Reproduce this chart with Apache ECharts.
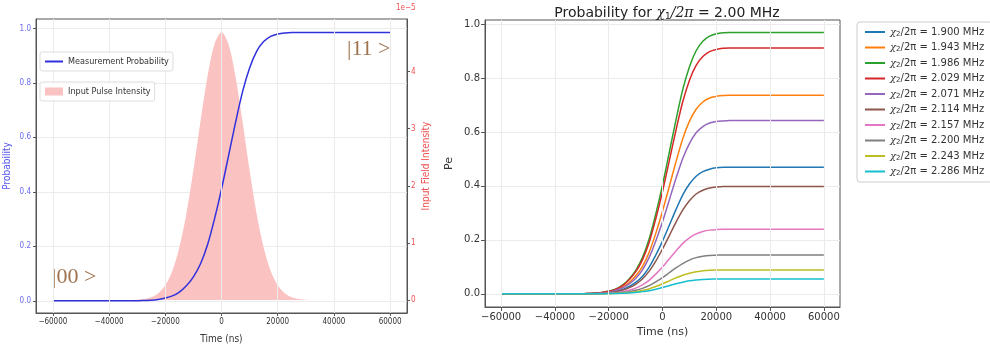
<!DOCTYPE html>
<html>
<head>
<meta charset="utf-8">
<script src="https://cdn.jsdelivr.net/npm/echarts@6/dist/echarts.min.js"></script>
<style>
  html, body { margin: 0; padding: 0; background: #fff; }
  #chart { width: 990px; height: 349px; }
</style>
</head>
<body>
<div id="chart"></div>
<script>
// time samples (ns) shared by every curve
const times = [-60000, -30000, -27500, -25000, -22500, -20000, -17500, -15000, -12500, -10000, -7500, -5000, -2500,
  0, 2500, 5000, 7500, 10000, 12500, 15000, 17500, 20000, 22500, 25000, 60000];

// left panel
const measProb = [0, 0, 0.001, 0.002, 0.005, 0.010, 0.018, 0.032, 0.055, 0.088, 0.135, 0.205, 0.300,
  0.410, 0.532, 0.655, 0.768, 0.855, 0.916, 0.952, 0.971, 0.980, 0.984, 0.985, 0.985];
// pulse intensity in units of 1e-5
const pulseTimes = [-60000, -35000, -32500, -30000, -27500, -25000, -22500, -20000, -17500, -15000, -12500, -10000, -7500, -5000, -2500,
  0, 2500, 5000, 7500, 10000, 12500, 15000, 17500, 20000, 22500, 25000, 27500, 30000, 32500, 35000, 60000];
const pulse = [0, 0, 0.002, 0.007, 0.019, 0.05, 0.12, 0.26, 0.51, 0.92, 1.51, 2.27, 3.12, 3.91, 4.48,
  4.69, 4.48, 3.91, 3.12, 2.27, 1.51, 0.92, 0.51, 0.26, 0.12, 0.05, 0.019, 0.007, 0.002, 0, 0];

// right panel
const chi2Labels = ['1.900', '1.943', '1.986', '2.029', '2.071', '2.114', '2.157', '2.200', '2.243', '2.286'];
const pe1900 = [0, 0, 0, 0.001, 0.002, 0.005, 0.008, 0.015, 0.026, 0.042, 0.064, 0.098, 0.143, 0.195, 0.253, 0.312, 0.366, 0.407, 0.436, 0.453, 0.462, 0.467, 0.469, 0.469, 0.469];
const pe1943 = [0, 0, 0.001, 0.001, 0.004, 0.007, 0.013, 0.024, 0.041, 0.066, 0.101, 0.153, 0.224, 0.306, 0.397, 0.489, 0.574, 0.639, 0.684, 0.711, 0.726, 0.732, 0.735, 0.736, 0.736];
const pe1986 = [0, 0, 0.001, 0.002, 0.005, 0.010, 0.017, 0.031, 0.054, 0.086, 0.133, 0.202, 0.296, 0.403, 0.523, 0.644, 0.756, 0.841, 0.901, 0.936, 0.955, 0.964, 0.968, 0.969, 0.969];
const pe2029 = [0, 0, 0.001, 0.002, 0.005, 0.009, 0.016, 0.029, 0.051, 0.081, 0.125, 0.189, 0.278, 0.379, 0.492, 0.606, 0.711, 0.791, 0.847, 0.880, 0.898, 0.906, 0.910, 0.911, 0.911];
const pe2071 = [0, 0, 0.001, 0.001, 0.003, 0.006, 0.012, 0.021, 0.036, 0.057, 0.088, 0.134, 0.196, 0.267, 0.347, 0.427, 0.501, 0.557, 0.597, 0.620, 0.633, 0.639, 0.641, 0.642, 0.642];
const pe2114 = [0, 0, 0, 0.001, 0.002, 0.004, 0.007, 0.013, 0.022, 0.035, 0.055, 0.083, 0.121, 0.166, 0.215, 0.265, 0.310, 0.345, 0.370, 0.384, 0.392, 0.396, 0.398, 0.398, 0.398];
const pe2157 = [0, 0, 0, 0, 0.001, 0.002, 0.004, 0.008, 0.013, 0.021, 0.033, 0.050, 0.073, 0.099, 0.129, 0.159, 0.186, 0.207, 0.222, 0.231, 0.236, 0.238, 0.239, 0.239, 0.239];
const pe2200 = [0, 0, 0, 0, 0.001, 0.001, 0.003, 0.005, 0.008, 0.013, 0.020, 0.030, 0.044, 0.060, 0.078, 0.096, 0.112, 0.125, 0.134, 0.139, 0.142, 0.143, 0.144, 0.144, 0.144];
const pe2243 = [0, 0, 0, 0, 0, 0.001, 0.002, 0.003, 0.005, 0.008, 0.012, 0.018, 0.027, 0.037, 0.048, 0.059, 0.069, 0.076, 0.082, 0.085, 0.087, 0.088, 0.088, 0.088, 0.088];
const pe2286 = [0, 0, 0, 0, 0, 0.001, 0.001, 0.002, 0.003, 0.005, 0.008, 0.011, 0.017, 0.023, 0.030, 0.037, 0.043, 0.048, 0.051, 0.053, 0.054, 0.055, 0.055, 0.055, 0.055];
const peSeries = [pe1900, pe1943, pe1986, pe2029, pe2071, pe2114, pe2157, pe2200, pe2243, pe2286];

const xTicks = [-60000, -40000, -20000, 0, 20000, 40000, 60000];
const probTicks = [0, 0.2, 0.4, 0.6, 0.8, 1.0];
const pulseTicks = [0, 1, 2, 3, 4];

const tab10 = ['#1f77b4', '#ff7f0e', '#2ca02c', '#d62728', '#9467bd', '#8c564b', '#e377c2', '#7f7f7f', '#bcbd22', '#17becf'];

const zip = (xs, ys) => xs.map((x, i) => [x, ys[i]]);
const minus = v => String(v).replace('-', '\u2212');
const narrow = '"Liberation Sans Narrow", "DejaVu Sans Condensed", sans-serif';
const sans = '"DejaVu Sans", sans-serif';
const gridLine = { show: true, lineStyle: { color: '#ebebeb', width: 1 } };
const axisLine = { show: true, onZero: false, lineStyle: { color: '#555' } };

// vertical grid lines at the x ticks, carried by an empty series
const vGrid = (xIdx, yIdx) => ({
  type: 'line', xAxisIndex: xIdx, yAxisIndex: yIdx, data: [], z: 2,
  markLine: {
    silent: true, symbol: 'none', animation: false, label: { show: false },
    lineStyle: { color: '#ebebeb', width: 1, type: 'solid' },
    data: xTicks.map(v => ({ xAxis: v })),
  },
});

const chart = echarts.init(document.getElementById('chart'), null, { renderer: 'canvas' });

const seriesRight = peSeries.map((arr, i) => ({
  name: 'chi' + chi2Labels[i],
  type: 'line',
  xAxisIndex: 1,
  yAxisIndex: 2,
  data: zip(times, arr),
  smooth: 0.3,
  symbol: 'none',
  lineStyle: { color: tab10[i], width: 1.5 },
  itemStyle: { color: tab10[i] },
  z: 3,
}));

const option = {
  animation: false,
  title: {
    text: 'Probability for {it|χ}{sub|1}{it|/2π} = 2.00 MHz',
    left: 662,
    textAlign: 'center',
    top: 1,
    textStyle: {
      fontFamily: sans, fontSize: 14, fontWeight: 'normal', color: '#222',
      rich: {
        it: { fontFamily: '"DejaVu Serif", serif', fontStyle: 'italic', fontSize: 14, color: '#222' },
        sub: { fontFamily: sans, fontSize: 9, color: '#222', padding: [6, 0, 0, 0] },
      },
    },
  },
  grid: [
    { left: 36, right: 583, top: 19, bottom: 36, show: true, borderColor: '#555', borderWidth: 1 },
    { left: 485, right: 150, top: 20, bottom: 42, show: true, borderColor: '#555', borderWidth: 1 },
  ],
  legend: [
    {
      data: ['Measurement Probability'],
      left: 40, top: 52, orient: 'vertical', z: 10,
      backgroundColor: 'rgba(255,255,255,0.85)',
      borderColor: '#ddd', borderWidth: 1, borderRadius: 2, padding: [5, 4, 5, 5],
      itemWidth: 18, itemHeight: 2, icon: 'rect',
      textStyle: { fontFamily: narrow, fontSize: 9, color: '#333' },
    },
    {
      data: ['Input Pulse Intensity'],
      left: 40, top: 82, orient: 'vertical', z: 10,
      backgroundColor: 'rgba(255,255,255,0.85)',
      borderColor: '#ddd', borderWidth: 1, borderRadius: 2, padding: [5, 4, 5, 5],
      itemWidth: 18, itemHeight: 8, icon: 'rect',
      textStyle: { fontFamily: narrow, fontSize: 9, color: '#333' },
    },
    {
      data: chi2Labels.map(l => 'chi' + l),
      left: 857, top: 22, orient: 'vertical',
      backgroundColor: '#fff',
      borderColor: '#ccc', borderWidth: 1, borderRadius: 3, padding: [5, 8, 5, 8],
      itemGap: 5, itemWidth: 20, itemHeight: 2, icon: 'rect',
      formatter: name => '{it|χ}{sub|2}{n|/2π = ' + name.slice(3) + ' MHz}',
      textStyle: {
        fontFamily: sans, fontSize: 10, color: '#333',
        rich: {
          it: { fontFamily: '"DejaVu Serif", serif', fontStyle: 'italic', fontSize: 10, color: '#333' },
          sub: { fontFamily: sans, fontSize: 7, color: '#333', padding: [4, 0, 0, 0] },
          n: { fontFamily: sans, fontSize: 10, color: '#333' },
        },
      },
    },
  ],
  xAxis: [
    {
      gridIndex: 0, type: 'value', min: -66000, max: 66000, splitNumber: 6,
      name: 'Time (ns)', nameLocation: 'middle', nameGap: 21,
      nameTextStyle: { fontFamily: narrow, fontSize: 10, color: '#333' },
      axisLine: axisLine, splitLine: { show: false },
      axisTick: { show: true, length: 3, lineStyle: { color: '#555' }, customValues: xTicks },
      axisLabel: { fontFamily: narrow, fontSize: 8, color: '#333', margin: 5, customValues: xTicks, formatter: minus },
    },
    {
      gridIndex: 1, type: 'value', min: -66000, max: 66000, splitNumber: 6,
      name: 'Time (ns)', nameLocation: 'middle', nameGap: 19,
      nameTextStyle: { fontFamily: sans, fontSize: 11, color: '#333' },
      axisLine: axisLine, splitLine: { show: false },
      axisTick: { show: true, length: 4, lineStyle: { color: '#555' }, customValues: xTicks },
      axisLabel: { fontFamily: sans, fontSize: 10, color: '#333', margin: 5, customValues: xTicks, formatter: minus },
    },
  ],
  yAxis: [
    {
      gridIndex: 0, type: 'value', min: -0.045, max: 1.035,
      name: 'Probability', nameLocation: 'middle', nameGap: 24, nameRotate: 90,
      nameTextStyle: { fontFamily: narrow, fontSize: 10, color: '#5555ee' },
      axisLine: axisLine, splitLine: gridLine,
      axisTick: { show: true, length: 3, lineStyle: { color: '#555' }, customValues: probTicks },
      axisLabel: { fontFamily: narrow, fontSize: 8, color: '#6b6bf0', margin: 5, customValues: probTicks, formatter: v => v.toFixed(1) },
    },
    {
      gridIndex: 0, type: 'value', min: -0.227, max: 4.92, position: 'right',
      name: 'Input Field Intensity', nameLocation: 'middle', nameGap: 14, nameRotate: 90,
      nameTextStyle: { fontFamily: narrow, fontSize: 10, color: '#f05050' },
      axisLine: axisLine, splitLine: { show: false },
      axisTick: { show: true, length: 3, lineStyle: { color: '#555' }, customValues: pulseTicks },
      axisLabel: { fontFamily: narrow, fontSize: 8, color: '#f05050', margin: 4, customValues: pulseTicks },
    },
    {
      gridIndex: 1, type: 'value', min: -0.049, max: 1.015,
      name: 'Pe', nameLocation: 'middle', nameGap: 30, nameRotate: 90,
      nameTextStyle: { fontFamily: sans, fontSize: 11, color: '#333' },
      axisLine: axisLine, splitLine: gridLine,
      axisTick: { show: true, length: 4, lineStyle: { color: '#555' }, customValues: probTicks },
      axisLabel: { fontFamily: sans, fontSize: 10, color: '#333', margin: 5, customValues: probTicks, formatter: v => v.toFixed(1) },
    },
  ],
  graphic: [
    { type: 'text', left: 396, top: 4, style: { text: '1e\u22125', fill: '#f05050', font: '8px ' + narrow } },
    { type: 'text', left: 347, top: 38, style: { text: '|11 >', fill: '#a0734f', font: '22px "Liberation Serif", serif' } },
    { type: 'text', left: 52, top: 266, style: { text: '|00 >', fill: '#a0734f', font: '22px "Liberation Serif", serif' } },
  ],
  series: [
    {
      name: 'Input Pulse Intensity', type: 'line', xAxisIndex: 0, yAxisIndex: 1,
      data: zip(pulseTimes, pulse), smooth: 0.3, symbol: 'none',
      lineStyle: { width: 0 }, areaStyle: { color: '#fbc2c2', opacity: 1, origin: 0 },
      itemStyle: { color: '#fbc2c2' }, z: 1,
    },
    vGrid(0, 0),
    {
      name: 'Measurement Probability', type: 'line', xAxisIndex: 0, yAxisIndex: 0,
      data: zip(times, measProb), smooth: 0.3, symbol: 'none',
      lineStyle: { color: '#3030dd', width: 1.5 }, itemStyle: { color: '#3030dd' }, z: 3,
    },
    vGrid(1, 2),
    ...seriesRight,
  ],
};
chart.setOption(option);
</script>
</body>
</html>
